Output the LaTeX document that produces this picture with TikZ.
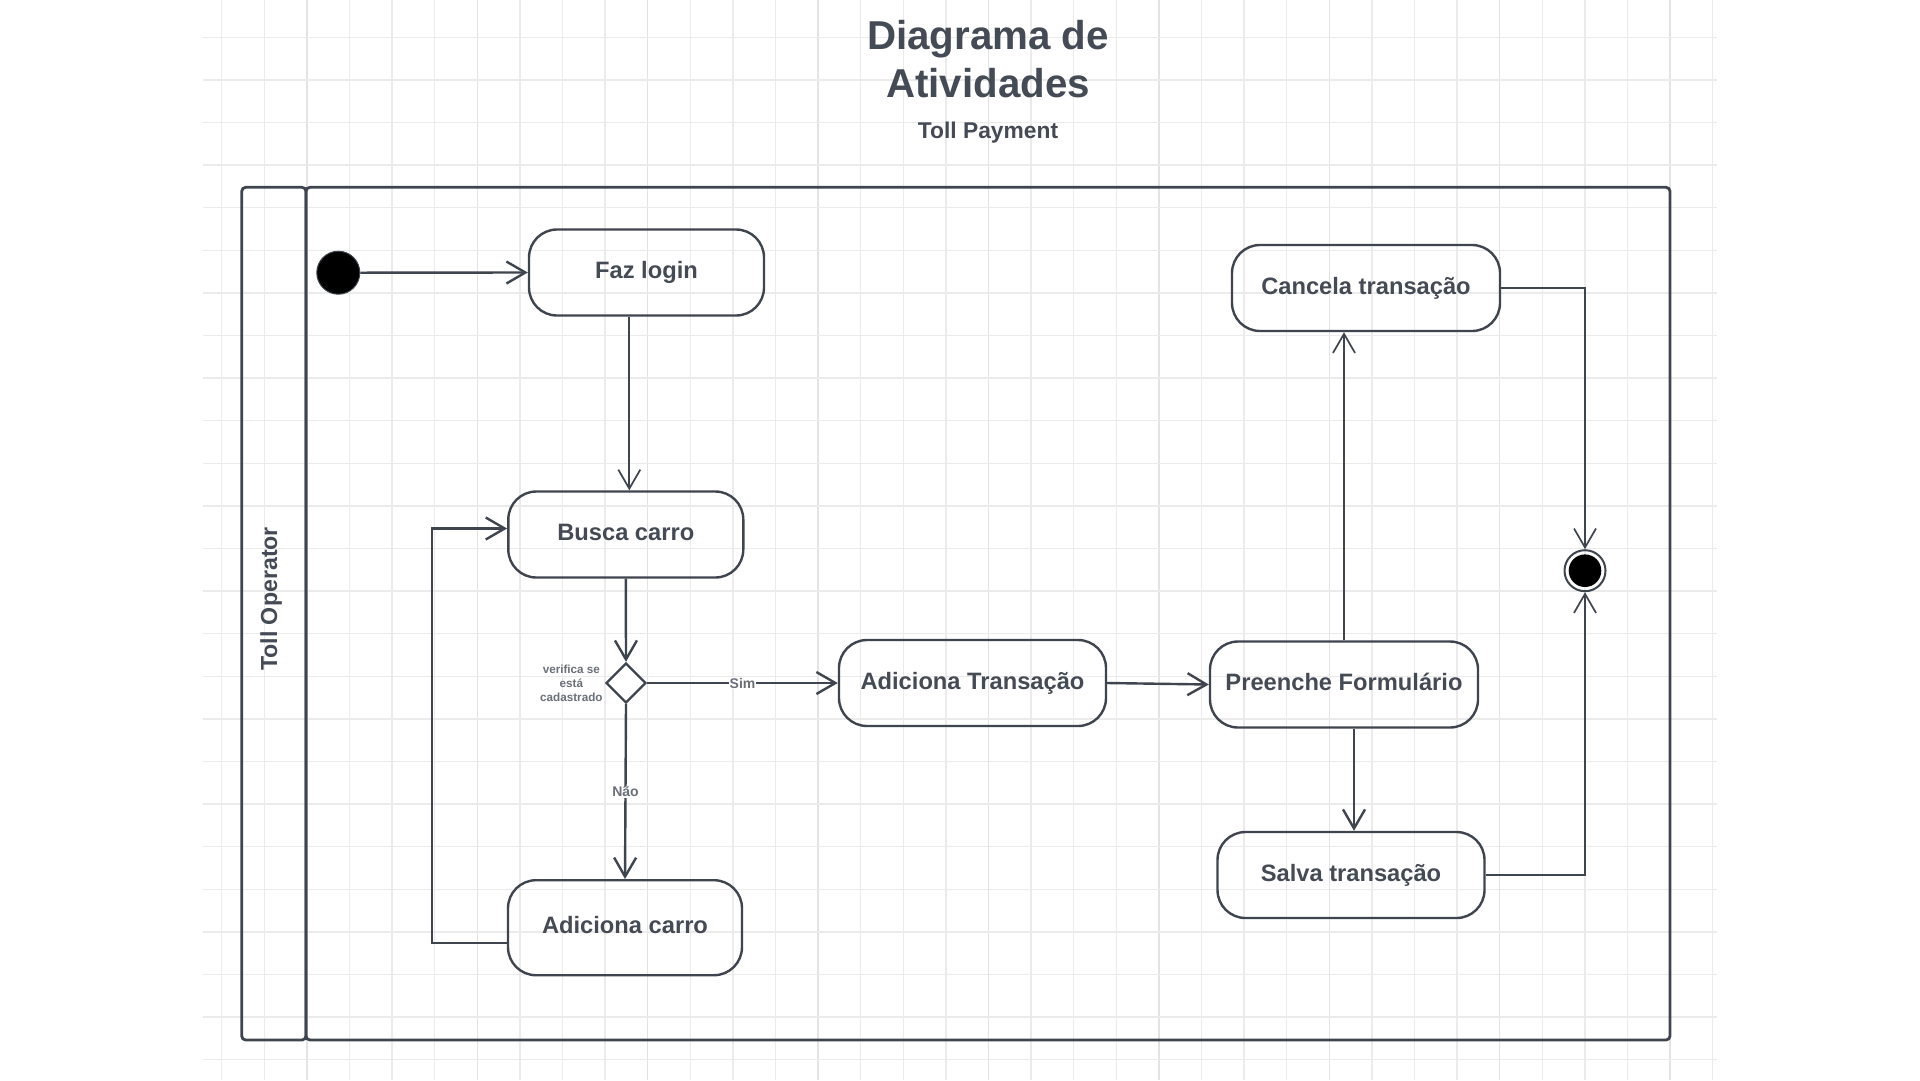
\documentclass[tikz,border=0pt]{standalone}
\usepackage{fontspec}
\setmainfont{Liberation Sans}
\usepackage{tikz}
\usetikzlibrary{arrows.meta,positioning,shapes.geometric}
\definecolor{linec}{HTML}{3F454E}
\definecolor{textc}{HTML}{454B55}
\definecolor{labc}{HTML}{6A7079}
\definecolor{gridc}{HTML}{EBEBEB}
\definecolor{gridd}{HTML}{E3E3E3}

\begin{document}
\begin{tikzpicture}[x=1pt,y=-1pt,
                act/.style={draw=linec,line width=2.4pt,rounded corners=28pt,inner sep=0pt,minimum height=86pt,
                    text=textc,font=\fontsize{23.7}{28}\selectfont\bfseries,text height=17pt,text depth=5pt},
                pool/.style={draw=linec,line width=2.8pt,rounded corners=4pt,inner sep=0pt,minimum height=852.7pt},
                flow/.style={draw=linec,line width=2.4pt,-{Straight Barb[length=19pt,width=22pt]}},
                thinflow/.style={flow,line width=1.7pt},
                guard/.style={text=labc,font=\fontsize{14}{16}\selectfont\bfseries,fill=white,inner sep=1pt}
            ]
                \fill[white] (0,0) rectangle (1920,1080);
                \useasboundingbox (0,0) rectangle (1920,1080);
                \foreach \k [evaluate=\k as \gx using 221.7+42.6*\k] in {0,...,35} {
                    \draw[gridc,line width=1.4pt] (\gx,0) -- (\gx,1080);
                }
                \foreach \k [evaluate=\k as \gx using 221.7+42.6*\k] in {2,6,...,34} {
                    \draw[gridd,line width=1.4pt] (\gx,0) -- (\gx,1080);
                }
                \foreach \k [evaluate=\k as \gy using 165+42.6*\k] in {-3,...,21} {
                    \draw[gridc,line width=1.4pt] (202.7,\gy) -- (1716.7,\gy);
                }

                \node (title) [text=textc,font=\fontsize{40.3}{47.5}\selectfont\bfseries,anchor=base] at (988,49.5) {Diagrama de};
                \node (title2) [text=textc,font=\fontsize{40.3}{47.5}\selectfont\bfseries,anchor=base] at (988,97) {Atividades};
                \node (sub) [text=textc,font=\fontsize{22.8}{27}\selectfont\bfseries,anchor=base] at (988,138.5) {Toll Payment};

                \node (lane) [pool,minimum width=64.3pt] at (273.85,613.65) {};
                \node (body) [pool,minimum width=1364pt] at (988,613.65) {};
                \node (laneT) [rotate=90,text=textc,font=\fontsize{23.2}{28}\selectfont\bfseries] at (271,599) {Toll Operator};

                \node (start) [circle,fill=black,draw=linec,line width=1pt,minimum size=43pt,inner sep=0pt] at (338.3,272.7) {};
                \node (faz) [act,minimum width=235pt] at (646.5,272.5) {Faz login};
                \node (busca) [act,minimum width=235pt] at (625.8,534.5) {Busca carro};
                \node (dec) [diamond,draw=linec,line width=2.4pt,fill=white,minimum width=40pt,minimum height=40pt,inner sep=0pt] at (626,683) {};
                \node (decT) [text=labc,font=\fontsize{11.7}{14}\selectfont\bfseries,align=center,inner sep=1pt,left=1pt of dec] {verifica se\\está\\cadastrado};
                \node (addc) [act,minimum width=234pt,minimum height=95pt] at (625,927.7) {Adiciona carro};
                \node (addt) [act,minimum width=267pt] at (972.5,683) {Adiciona Transação};
                \node (pree) [act,minimum width=268pt] at (1344,684.5) {Preenche Formulário};
                \node (canc) [act,minimum width=268pt] at (1366,288) {Cancela transação};
                \node (salva) [act,minimum width=267pt] at (1351,875) {Salva transação};
                \node (end) [circle,draw=linec,line width=2pt,minimum size=41pt,inner sep=0pt] at (1585,570.7) {};
                \node (endDot) [circle,fill=black,minimum size=32.6pt,inner sep=0pt] at (end) {};

                \draw[flow] (start.east) -- (faz.west);
                \draw[thinflow] (faz.south -| busca.north) ++(3.5,0) -- ([xshift=3.5pt]busca.north);
                \draw[flow] (busca.south) -- (dec.north);
                \draw[flow] (dec.east) -- node[guard] (sim) {Sim} (addt.west);
                \draw[flow] (dec.south) -- node[guard] (nao) {Não} (addc.north);
                \draw[flow] ([yshift=-15.3pt]addc.west) -- ++(-75,0) |- ([yshift=6pt]busca.west);
                \draw[flow] (addt.east) -- (pree.west);
                \draw[thinflow] (pree.north) -- (pree.north |- canc.south);
                \draw[flow] (pree.south -| salva.north) ++(3,0) -- ([xshift=3pt]salva.north);
                \draw[thinflow] (canc.east) -| (end.north);
                \draw[thinflow] (salva.east) -| (end.south);
            \end{tikzpicture}
\end{document}
